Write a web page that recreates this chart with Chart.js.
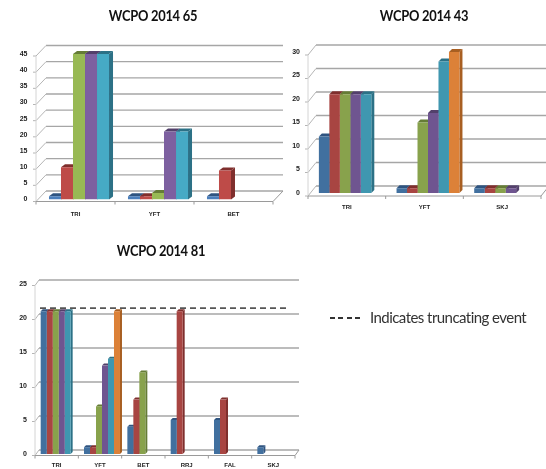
<!DOCTYPE html>
<html>
<head>
<meta charset="utf-8">
<title>WCPO 2014</title>
<script src="https://cdn.jsdelivr.net/npm/chart.js@4"></script>
<style>
  html, body { margin: 0; padding: 0; background: #fff; }
  body { width: 546px; height: 469px; position: relative; overflow: hidden; }
  canvas { position: absolute; filter: blur(0.55px); }
  .title { position: absolute; width: 160px; text-align: center; font: bold 14.5px Lato, sans-serif; letter-spacing: -0.3px; color: #111; filter: blur(0.3px); white-space: nowrap; transform: scaleX(0.89); }
  .note { position: absolute; left: 370px; top: 308px; font: 15px Lato, sans-serif; letter-spacing: -0.55px; color: #333; white-space: nowrap; filter: blur(0.3px); }
  .dash { position: absolute; left: 330px; top: 317px; width: 31px; height: 1.5px; background: repeating-linear-gradient(90deg, #333 0 5px, transparent 5px 8.5px); }
</style>
</head>
<body>
<canvas id="c65" style="left:0;top:0"></canvas>
<canvas id="c43" style="left:273px;top:0"></canvas>
<canvas id="c81" style="left:0;top:235px"></canvas>
<div class="title" style="left:73px;top:7px">WCPO 2014 65</div>
<div class="title" style="left:344px;top:7px">WCPO 2014 43</div>
<div class="title" style="left:81px;top:242px">WCPO 2014 81</div>
<div class="dash"></div>
<div class="note">Indicates truncating event</div>
<script>
const brightColors = ["#4a7ebb", "#be4b48", "#98b954", "#7d60a0", "#46aac5", "#f68d36"];
const darkColors = ["#41709f", "#a84542", "#88a24c", "#6f5590", "#3f97b0", "#dc8138"];
const sideColors = ["#2f5480", "#7f2f2d", "#657c36", "#53406b", "#2c7186", "#a85f22"];

const labels65 = ["TRI", "YFT", "BET"];
const blue65 = [1, 1, 1];
const red65 = [10, 1, 9];
const green65 = [45, 2, null];
const purple65 = [45, 21, null];
const teal65 = [45, 21, null];

const labels43 = ["TRI", "YFT", "SKJ"];
const blue43 = [12, 1, 1];
const red43 = [21, 1, 1];
const green43 = [21, 15, 1];
const purple43 = [21, 17, 1];
const teal43 = [21, 28, null];
const orange43 = [null, 30, null];

const labels81 = ["TRI", "YFT", "BET", "RRJ", "FAL", "SKJ"];
const blue81 = [21, 1, 4, 5, 5, 1];
const red81 = [21, 1, 8, 21, 8, null];
const green81 = [21, 7, 12, null, null, null];
const purple81 = [21, 13, null, null, null, null];
const teal81 = [21, 14, null, null, null, null];
const orange81 = [null, 21, null, null, null, null];

const truncation81 = 21;

// fake Excel style 3D: walls and gridlines behind, side and top faces on the bars
const bars3d = {
  id: "bars3d",
  beforeDatasetsDraw(chart, args, o) {
    const { ctx } = chart;
    const xs = chart.scales.x, ys = chart.scales.y;
    const left = xs.left - o.shift, right = xs.right - o.shift;
    const axisY = ys.bottom + o.drop;
    ctx.save();
    // gridlines on the back wall
    ys.ticks.forEach(t => {
      const y = ys.getPixelForValue(t.value);
      ctx.strokeStyle = "#a6a6a6";
      ctx.lineWidth = o.gridWidth;
      ctx.beginPath();
      ctx.moveTo(left + o.wallX, y - o.wallY);
      ctx.lineTo(right + o.wallX, y - o.wallY);
      ctx.stroke();
      ctx.strokeStyle = "#b5b5b5";
      ctx.lineWidth = 1;
      ctx.beginPath();
      ctx.moveTo(left - 3, y + o.drop);
      ctx.lineTo(left, y + o.drop);
      ctx.lineTo(left + o.wallX, y - o.wallY);
      ctx.stroke();
    });
    // front left edge, kept faint
    ctx.strokeStyle = "#d4d4d4";
    ctx.lineWidth = 1;
    ctx.beginPath();
    ctx.moveTo(left, ys.top + o.drop);
    ctx.lineTo(left, axisY);
    ctx.stroke();
    // floor edge and front axis
    ctx.strokeStyle = "#9a9a9a";
    ctx.beginPath();
    ctx.moveTo(left, axisY);
    ctx.lineTo(right, axisY);
    ctx.lineTo(right + o.wallX, ys.bottom - o.wallY);
    for (let i = 0; i <= chart.data.labels.length; i++) {
      const x = left + (right - left) * i / chart.data.labels.length;
      ctx.moveTo(x, axisY);
      ctx.lineTo(x, axisY + 3);
    }
    ctx.stroke();
    // bar side and top faces
    chart.data.datasets.forEach((ds, d) => {
      chart.getDatasetMeta(d).data.forEach((bar, i) => {
        if (ds.data[i] == null) return;
        const r = bar.x + bar.width / 2, l = bar.x - bar.width / 2;
        const t = bar.y, b = bar.base;
        ctx.fillStyle = sideColors[d];
        ctx.beginPath();
        ctx.moveTo(r, t); ctx.lineTo(r + o.depthX, t - o.depthY);
        ctx.lineTo(r + o.depthX, b - o.depthY); ctx.lineTo(r, b);
        ctx.closePath(); ctx.fill();
        ctx.beginPath();
        ctx.moveTo(l, t); ctx.lineTo(l + o.depthX, t - o.depthY);
        ctx.lineTo(r + o.depthX, t - o.depthY); ctx.lineTo(r, t);
        ctx.closePath(); ctx.fill();
      });
    });
    ctx.restore();
  },
  afterDatasetsDraw(chart, args, o) {
    if (o.level == null) return;
    const { ctx } = chart;
    const y = chart.scales.y.getPixelForValue(o.level) - 3;
    ctx.save();
    ctx.strokeStyle = "#555";
    ctx.lineWidth = 1.8;
    ctx.setLineDash([6, 4]);
    ctx.beginPath();
    ctx.moveTo(chart.scales.x.left + 3, y);
    ctx.lineTo(o.levelEnd, y);
    ctx.stroke();
    ctx.restore();
  }
};

function makeChart(id, w, h, labels, series, yMax, palette, box, style) {
  const cv = document.getElementById(id);
  cv.width = w; cv.height = h;
  return new Chart(cv, {
    type: "bar",
    data: {
      labels,
      datasets: series.map((s, i) => ({
        data: s,
        backgroundColor: palette[i],
        categoryPercentage: style.cat,
        barPercentage: 1,
        borderWidth: 0
      }))
    },
    options: {
      responsive: false,
      animation: false,
      layout: { padding: { top: box.top, right: box.right, left: 0, bottom: 0 } },
      plugins: {
        legend: { display: false },
        tooltip: { enabled: false },
        bars3d: style
      },
      scales: {
        x: {
          afterFit(s) { s.height = box.axisH; },
          grid: { display: false },
          border: { display: false },
          ticks: {
            color: "#222",
            font: { family: '"Liberation Sans", sans-serif', size: 6, weight: "bold" },
            padding: style.labelPad,
            labelOffset: -style.shift,
            maxRotation: 0,
            autoSkip: false
          }
        },
        y: {
          min: 0,
          max: yMax,
          afterFit(s) { s.width = box.axisW; },
          grid: { display: false },
          border: { display: false },
          ticks: {
            stepSize: 5,
            color: "#222",
            font: { family: '"Liberation Sans", sans-serif', size: 7, weight: "bold" },
            padding: style.yPad
          }
        }
      }
    },
    plugins: [bars3d]
  });
}

makeChart("c65", 290, 230, labels65, [blue65, red65, green65, purple65, teal65], 45, brightColors,
  { top: 54, right: 13.5, axisW: 39.5, axisH: 30.5 },
  { cat: 0.76, shift: 3.5, drop: 2, wallX: 10, wallY: 8.5, depthX: 4, depthY: 3, gridWidth: 1.3, labelPad: 3, yPad: 4 });

makeChart("c43", 273, 230, labels43, [blue43, red43, green43, purple43, teal43, orange43], 30, darkColors,
  { top: 52, right: 1.5, axisW: 38.5, axisH: 37 },
  { cat: 0.81, shift: 3.5, drop: 3, wallX: 8, wallY: 7, depthX: 3, depthY: 3, gridWidth: 1.3, labelPad: 3, yPad: 3.5 });

makeChart("c81", 310, 234, labels81, [blue81, red81, green81, purple81, teal81, orange81], 25, darkColors,
  { top: 49, right: 13, axisW: 37, axisH: 15 },
  { cat: 0.83, shift: 2, drop: 1.5, wallX: 4, wallY: 4, depthX: 2, depthY: 2, gridWidth: 1.7, labelPad: 0, yPad: 2, level: truncation81, levelEnd: 290 });
</script>
</body>
</html>
